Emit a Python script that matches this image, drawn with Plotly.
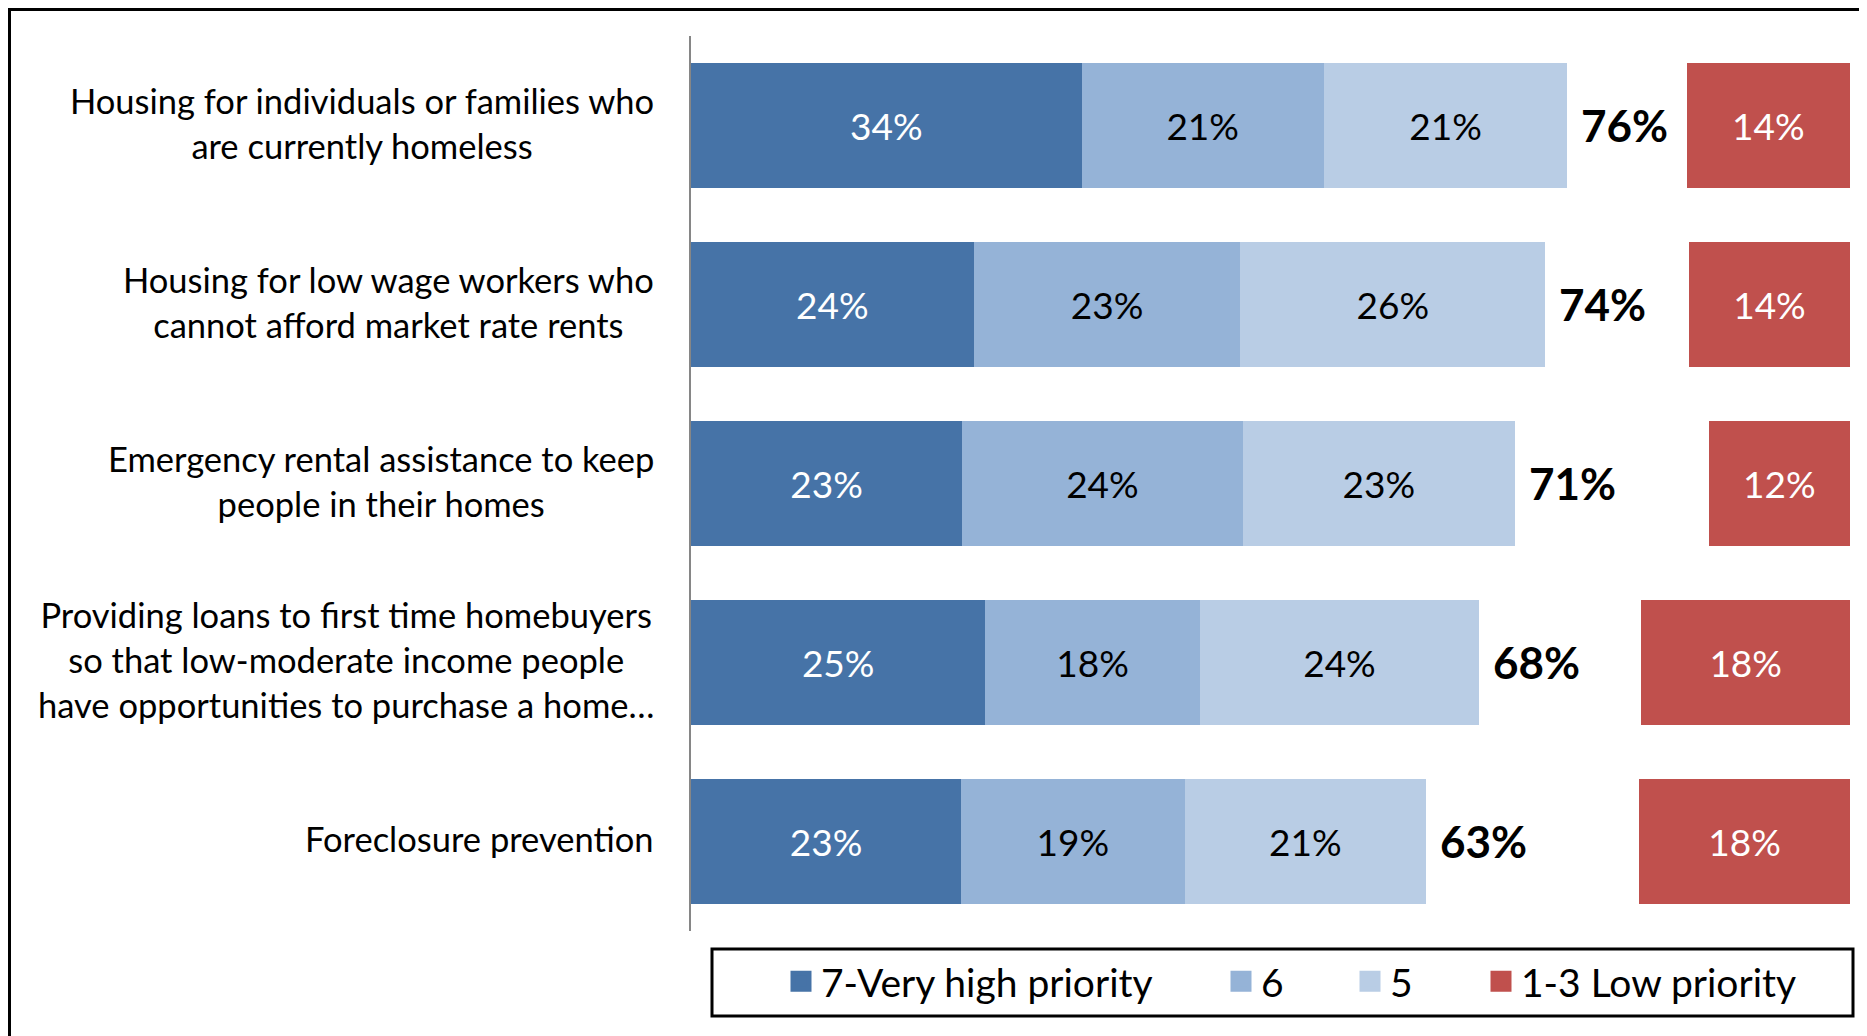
import plotly.graph_objects as go

# ---------------- data ----------------
categories = [
    "Housing for individuals or families who<br>are currently homeless",
    "Housing for low wage workers who<br>cannot afford market rate rents",
    "Emergency rental assistance to keep<br>people in their homes",
    "Providing loans to first time homebuyers<br>so that low-moderate income people<br>have opportunities to purchase a home…",
    "Foreclosure prevention",
]
series_names = ["7-Very high priority", "6", "5", "1-3 Low priority"]

very_high = [33.7, 24.4, 23.4, 25.4, 23.3]
prio6 = [20.9, 23.0, 24.2, 18.5, 19.3]
prio5 = [21.0, 26.3, 23.5, 24.1, 20.8]
low = [14.1, 13.9, 12.2, 18.0, 18.2]

very_high_labels = ["34%", "24%", "23%", "25%", "23%"]
prio6_labels = ["21%", "23%", "24%", "18%", "19%"]
prio5_labels = ["21%", "26%", "23%", "24%", "21%"]
low_labels = ["14%", "14%", "12%", "18%", "18%"]
total_labels = ["76%", "74%", "71%", "68%", "63%"]

# ---------------- style ----------------
COLORS = ["#4673A7", "#95B3D7", "#B9CDE5", "#C0504D"]
TEXT_COLORS = ["white", "black", "black", "white"]
FONT = "Lato, 'Open Sans', sans-serif"
OFF = 8  # page body margin
W, H = 1867 - OFF, 1036 - OFF
ML, MR, MT, MB = 691 - OFF, 17, 36 - OFF, 105
PW, PH = W - ML - MR, H - MT - MB


def px_x(px):
    return (px - OFF - ML) / PW


def px_y(py):
    return 1 - (py - OFF - MT) / PH


fig = go.Figure()

stack_vals = [very_high, prio6, prio5]
stack_labels = [very_high_labels, prio6_labels, prio5_labels]
for i in range(3):
    fig.add_trace(go.Bar(
        y=categories, x=stack_vals[i], orientation="h",
        name=series_names[i], marker=dict(color=COLORS[i], line=dict(width=0)),
        text=stack_labels[i], textposition="inside", insidetextanchor="middle",
        textangle=0, textfont=dict(family=FONT, size=37, color=TEXT_COLORS[i]),
        showlegend=False, hoverinfo="skip",
    ))

fig.add_trace(go.Bar(
    y=categories, x=low, base=[100 - v for v in low], orientation="h",
    name=series_names[3], marker=dict(color=COLORS[3], line=dict(width=0)),
    text=low_labels, textposition="inside", insidetextanchor="middle",
    textangle=0, textfont=dict(family=FONT, size=37, color=TEXT_COLORS[3]),
    showlegend=False, hoverinfo="skip",
))

# legend entries (one legend per entry so each can be placed like the original)
legend_keys = ["legend", "legend2", "legend3", "legend4"]
legend_text_px = [822, 1262, 1391, 1522]
for i in range(4):
    fig.add_trace(go.Scatter(
        x=[None], y=[None], mode="markers", name=series_names[i],
        marker=dict(symbol="square", size=16, color=COLORS[i],
                    line=dict(color=COLORS[i], width=5)),
        legend=legend_keys[i], showlegend=True, hoverinfo="skip",
    ))

# category labels and totals
totals = [a + b + c for a, b, c in zip(very_high, prio6, prio5)]
annotations = []
for cat in categories:
    annotations.append(dict(
        x=0, xref="paper", y=cat, yref="y", text=cat, showarrow=False,
        xanchor="right", xshift=-35, yshift=3, align="center",
        font=dict(family=FONT, size=34.5, color="black"),
    ))
for cat, tot, lab in zip(categories, totals, total_labels):
    annotations.append(dict(
        x=tot, xref="x", y=cat, yref="y", text=lab, showarrow=False,
        xanchor="left", xshift=12, yshift=1,
        font=dict(family=FONT, size=44, color="black", weight="bold"),
    ))

layout_legends = {}
for i, key in enumerate(legend_keys):
    layout_legends[key] = dict(
        x=px_x(legend_text_px[i] - 41), xanchor="left",
        y=px_y(981.5), yanchor="middle",
        orientation="h", bgcolor="rgba(0,0,0,0)", borderwidth=0,
        font=dict(family=FONT, size=39, color="black"),
    )

fig.update_layout(
    width=W, height=H,
    margin=dict(l=ML, r=MR, t=MT, b=MB, pad=0),
    paper_bgcolor="white", plot_bgcolor="white",
    barmode="stack", bargap=0.305,
    font=dict(family=FONT, color="black"),
    xaxis=dict(range=[0, 100], visible=False, fixedrange=True),
    yaxis=dict(
        type="category", categoryorder="array", categoryarray=categories,
        range=[len(categories) - 0.5, -0.5],
        showline=True, linecolor="#868686", linewidth=2,
        showticklabels=False, ticks="", showgrid=False, zeroline=False,
        fixedrange=True,
    ),
    annotations=annotations,
    shapes=[
        dict(type="rect", xref="paper", yref="paper",
             x0=px_x(9.5), x1=px_x(1864), y0=px_y(1050), y1=px_y(9.5),
             line=dict(color="black", width=3), fillcolor="rgba(0,0,0,0)"),
        dict(type="rect", xref="paper", yref="paper",
             x0=px_x(712), x1=px_x(1853), y0=px_y(1016), y1=px_y(949),
             line=dict(color="black", width=3), fillcolor="rgba(0,0,0,0)"),
    ],
    **layout_legends,
)

fig.write_html("out.html")
